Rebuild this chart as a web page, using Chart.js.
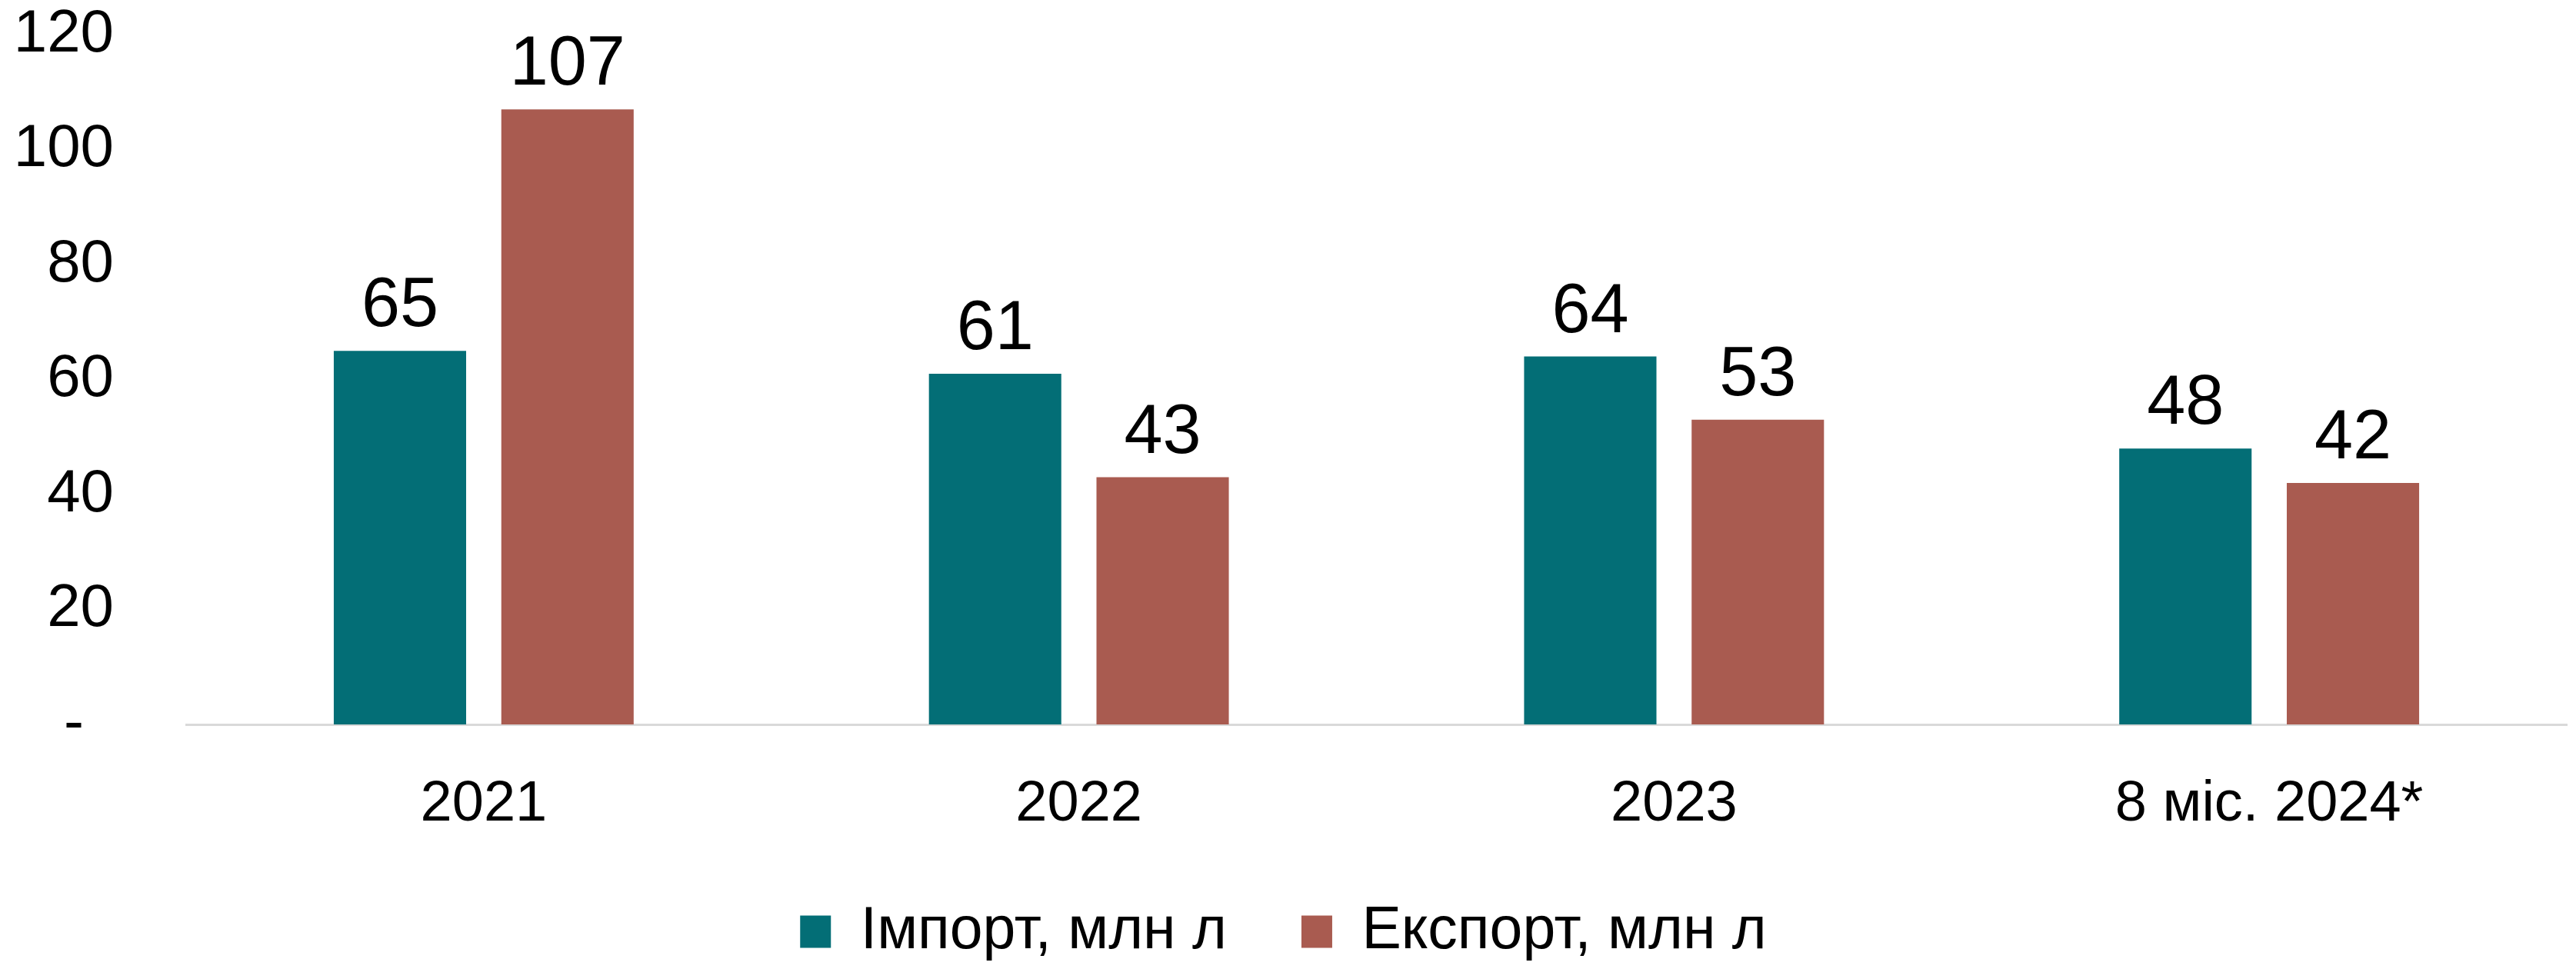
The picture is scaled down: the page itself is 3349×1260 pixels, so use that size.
<!DOCTYPE html>
<html>
<head>
<meta charset="utf-8">
<script src="https://cdn.jsdelivr.net/npm/chart.js@4/dist/chart.umd.min.js"></script>
<style>
html,body{margin:0;padding:0;background:#fff;}
#c{display:block;}
</style>
</head>
<body>
<canvas id="c" width="3349" height="1260"></canvas>
<script>
const categories = ['2021', '2022', '2023', '8 міс. 2024*'];
const importValues = [65, 61, 64, 48];
const exportValues = [107, 43, 53, 42];
const seriesNames = ['Імпорт, млн л', 'Експорт, млн л'];
const yTicks = [0, 20, 40, 60, 80, 100, 120];

const FONT = "'Liberation Sans', Arial, sans-serif";

const dataLabels = {
  id: 'dataLabels',
  afterDatasetsDraw(chart) {
    const ctx = chart.ctx;
    ctx.save();
    ctx.font = '90px ' + FONT;
    ctx.fillStyle = '#000';
    ctx.textAlign = 'center';
    ctx.textBaseline = 'alphabetic';
    chart.data.datasets.forEach((ds, i) => {
      const meta = chart.getDatasetMeta(i);
      meta.data.forEach((bar, j) => {
        ctx.fillText(String(ds.data[j]), bar.x, bar.y - 32);
      });
    });
    ctx.restore();
  }
};

new Chart(document.getElementById('c'), {
  type: 'bar',
  data: {
    labels: categories,
    datasets: [
      { label: seriesNames[0], data: importValues, backgroundColor: '#036E76', borderWidth: 0 },
      { label: seriesNames[1], data: exportValues, backgroundColor: '#A95B50', borderWidth: 0 }
    ]
  },
  options: {
    responsive: false,
    animation: false,
    devicePixelRatio: 1,
    layout: { padding: { top: 45, right: 12, left: 0, bottom: 0 } },
    datasets: { bar: { categoryPercentage: 0.563, barPercentage: 0.79 } },
    plugins: {
      tooltip: { enabled: false },
      legend: {
        position: 'bottom',
        labels: {
          font: { size: 77, family: FONT },
          color: '#000',
          boxWidth: 40,
          boxHeight: 42,
          padding: 20,
          generateLabels(chart) {
            const items = Chart.defaults.plugins.legend.labels.generateLabels(chart);
            items.forEach((it, i) => {
              it.lineWidth = 0;
              if (i < items.length - 1) it.text = it.text + '\u2003';
            });
            return items;
          }
        }
      }
    },
    scales: {
      x: {
        grid: { display: false, drawTicks: false },
        border: { display: true, color: '#D9D9D9', width: 3 },
        ticks: { font: { size: 74, family: FONT }, color: '#000', padding: 60, maxRotation: 0 },
        afterFit(s) { s.height = 211; s.paddingLeft = 0; s.paddingRight = 0; }
      },
      y: {
        min: 0, max: 120,
        afterBuildTicks(s) { s.ticks = yTicks.map(v => ({ value: v })); },
        grid: { display: false, drawTicks: false },
        border: { display: false },
        ticks: {
          font: { size: 78, family: FONT }, color: '#000', padding: 94,
          callback: v => v === 0 ? '-\u2002' : String(v)
        },
        afterFit(s) { s.width = 242; s.paddingTop = 0; s.paddingBottom = 0; }
      }
    }
  },
  plugins: [dataLabels]
});
</script>
</body>
</html>
